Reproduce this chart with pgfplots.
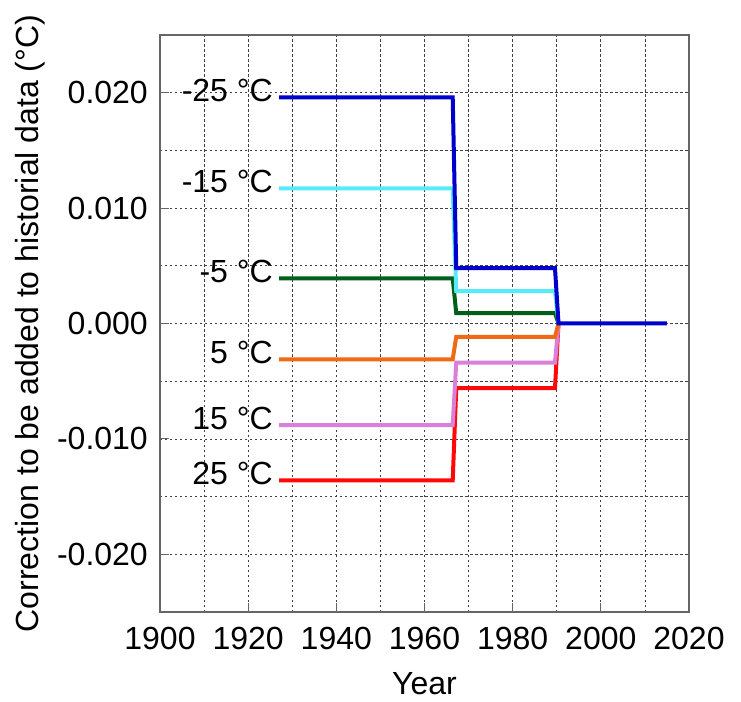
\documentclass[border=0pt]{standalone}
\usepackage{fontspec}
\setmainfont{Liberation Sans}
\usepackage{pgfplots}
\pgfplotsset{compat=1.18}
\definecolor{cMa}{RGB}{0,0,205}
\definecolor{cMb}{RGB}{85,235,250}
\definecolor{cMc}{RGB}{0,95,25}
\definecolor{cPc}{RGB}{240,105,20}
\definecolor{cPb}{RGB}{218,128,218}
\definecolor{cPa}{RGB}{255,8,8}
\begin{document}
\fontsize{32bp}{38bp}\selectfont
\begin{tikzpicture}
\begin{axis}[
  scale only axis, width=529bp, height=577bp,
  xmin=1900, xmax=2020, ymin=-0.025, ymax=0.025,
  xtick={1900,1920,...,2020},
  xticklabels={1900,1920,1940,1960,1980,2000,2020},
  minor xtick={1910,1930,...,2010},
  ytick={-0.02,-0.01,0,0.01,0.02},
  yticklabels={-0.020,-0.010,0.000,0.010,0.020},
  minor ytick={-0.015,-0.005,0.005,0.015},
  scaled x ticks=false, scaled y ticks=false,
  grid=both,
  major grid style={black!75, line width=0.8bp, dash pattern=on 2.5bp off 2.5bp},
  minor grid style={black!75, line width=0.8bp, dash pattern=on 2.5bp off 2.5bp},
  axis line style={black!60, line width=1.3bp},
  tick align=inside, xtick pos=bottom, ytick pos=left,
  major tick length=9bp, minor tick length=0bp,
  tick style={black!60, line width=1bp},
  ticklabel style={inner sep=0pt, font=\fontsize{32bp}{38bp}\selectfont},
  xticklabel shift=15bp, yticklabel shift=12bp,
  xlabel={Year}, ylabel={Correction to be added to historial data (°C)},
  label style={inner sep=0pt, font=\fontsize{32bp}{38bp}\selectfont},
  xlabel style={at={(axis description cs:0.5,0)}, anchor=base, yshift=-82bp},
  ylabel style={at={(axis description cs:0,0.5)}, anchor=base, yshift=121bp},
  clip=false,
  every axis plot/.append style={line width=4bp},
]
\coordinate (O) at (rel axis cs:0,0);
\addplot[cPa] coordinates {(1927,-0.0136) (1966.4,-0.0136) (1967.2,-0.0056) (1989.6,-0.0056) (1990.4,0)};
\addplot[cPb] coordinates {(1927,-0.0088) (1966.4,-0.0088) (1967.2,-0.0034) (1989.6,-0.0034) (1990.4,0)};
\addplot[cPc] coordinates {(1927,-0.0031) (1966.4,-0.0031) (1967.2,-0.00115) (1989.6,-0.00115) (1990.4,0)};
\addplot[cMc] coordinates {(1927,0.0039) (1966.4,0.0039) (1967.2,0.0009) (1989.6,0.0009) (1990.4,0)};
\addplot[cMb] coordinates {(1927,0.0117) (1966.4,0.0117) (1967.2,0.0028) (1989.6,0.0028) (1990.4,0)};
\addplot[cMa] coordinates {(1927,0.0196) (1966.4,0.0196) (1967.2,0.0048) (1989.6,0.0048) (1990.4,0) (2015,0)};
\begin{scope}[every node/.style={anchor=base east, inner sep=0pt, xshift=-6bp, yshift=-4.5bp}]
\node at (axis cs:1927,0.0196) {-25 °C};
\node at (axis cs:1927,0.0117) {-15 °C};
\node at (axis cs:1927,0.0039) {-5 °C};
\node at (axis cs:1927,-0.0031) {5 °C};
\node at (axis cs:1927,-0.0088) {15 °C};
\node at (axis cs:1927,-0.0136) {25 °C};
\end{scope}
\end{axis}
\pgfresetboundingbox
\path[use as bounding box] ([xshift=-160bp,yshift=-90bp]O) rectangle ++(741bp,702bp);
\end{tikzpicture}
\end{document}
